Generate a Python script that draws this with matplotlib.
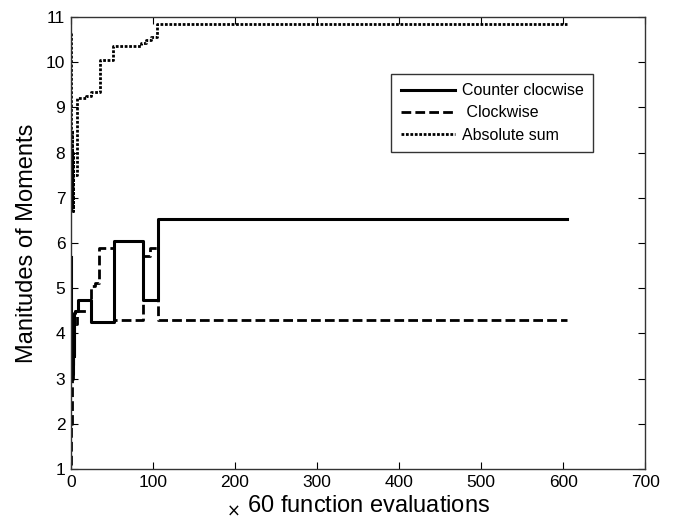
import matplotlib
matplotlib.use("Agg")
import matplotlib.pyplot as plt

plt.rcParams['font.family'] = ['Liberation Sans', 'DejaVu Sans']

# step data (x in units of 60 function evaluations)
ccw_x = [0, 0.5, 1, 1.5, 2, 2.5, 3, 3.5, 4, 5, 9, 25, 52.4, 88, 105.7, 605]
ccw_y = [5.7, 3.0, 4.2, 3.1, 4.3, 3.3, 4.4, 3.5, 4.45, 4.5, 4.75, 4.25, 6.05, 4.75, 6.53, 6.53]

cw_x = [0, 0.5, 1, 2, 3, 4, 5, 8, 25, 30, 34.6, 52.4, 88, 97, 105.7, 605]
cw_y = [1.1, 2.0, 3.0, 3.8, 4.1, 4.3, 4.2, 4.5, 5.05, 5.12, 5.88, 4.3, 5.72, 5.88, 4.3, 4.3]

abs_x = [0, 0.5, 1, 1.5, 2, 2.5, 3, 7, 18, 25, 35, 51.6, 86, 92, 98, 104.5, 605]
abs_y = [10.65, 6.8, 8.5, 6.75, 8.0, 6.7, 7.5, 9.2, 9.25, 9.33, 10.05, 10.36, 10.42, 10.48, 10.55, 10.85, 10.85]

labels = ['Counter clocwise', ' Clockwise', 'Absolute sum']

fig = plt.figure(figsize=(6.75, 5.26), dpi=100)
ax = fig.add_axes([0.105, 0.108, 0.851, 0.860])

ax.plot(ccw_x, ccw_y, 'k-', lw=2.2, drawstyle='steps-post', label=labels[0])
ax.plot(cw_x, cw_y, 'k--', lw=2.0, drawstyle='steps-post', label=labels[1],
        dashes=(3.5, 1.5))
ax.plot(abs_x, abs_y, 'k:', lw=2.0, drawstyle='steps-post', label=labels[2],
        dashes=(1, 0.6))

ax.set_xlim(0, 700)
ax.set_ylim(1, 11)
ax.set_xticks(range(0, 701, 100))
ax.set_yticks(range(1, 12))
ax.tick_params(direction='in', top=True, right=True, labelsize=12.5, length=5,
               pad=4)
for s in ax.spines.values():
    s.set_linewidth(1.0)
    s.set_color('#333333')

ax.set_xlabel(r'$_{\times}$ 60 function evaluations', fontsize=17, labelpad=3)
ax.set_ylabel('Manitudes of Moments', fontsize=17, labelpad=6)

leg = ax.legend(loc='upper left', bbox_to_anchor=(0.544, 0.892), fontsize=11.5,
                frameon=True, fancybox=False, edgecolor='black',
                handlelength=3.4, borderpad=0.6, labelspacing=0.45,
                handletextpad=0.4)
leg.get_frame().set_linewidth(1.0)

fig.savefig('out.png', dpi=100)
